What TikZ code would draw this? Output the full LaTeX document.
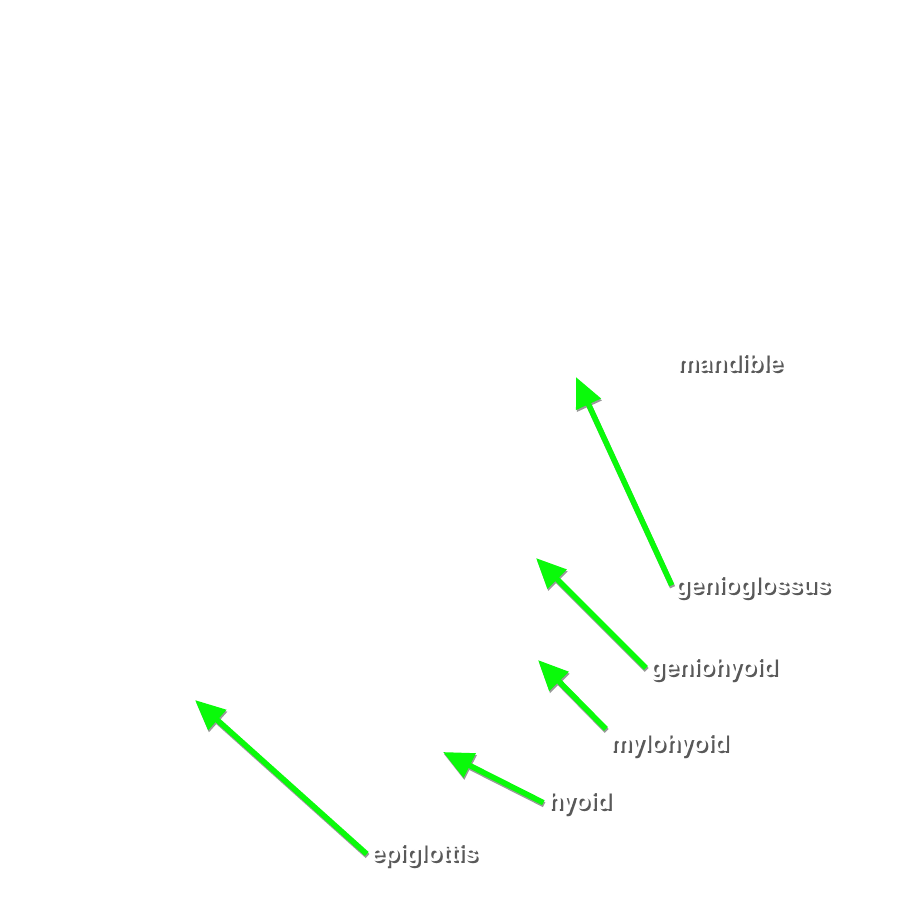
\documentclass[tikz,border=0pt]{standalone}
\usepackage{fontspec}
\setmainfont{TeX Gyre Heros}
\usepackage{xcolor}
\usetikzlibrary{arrows.meta, positioning}

\newcommand{\shadowlabel}[1]{\makebox[0pt][l]{\raisebox{-2.2pt}{\hspace{2.2pt}\textcolor{black!65}{#1}}}\textcolor{white}{#1}}

\begin{document}
\begin{tikzpicture}[x=1pt, y=-1pt, >=Latex]
% Define styles for labels and pointers
\tikzstyle{part} = [anchor=west, inner sep=2pt, font=\fontsize{24}{27}\selectfont\bfseries]
\tikzstyle{pointer} = [draw={rgb,255:red,10;green,250;blue,10}, line width=5.5pt,
  -{Triangle[length=30pt, width=26pt]}, shorten <=3pt,
  preaction={draw=black!40, line width=5.5pt, transform canvas={shift={(0.8pt,-2pt)}}}]
\useasboundingbox (0,0) rectangle (908,900);

% Nodes placement
\node [part] (mandible) at (675,364) {\shadowlabel{mandible}};
\node [part] (genioglossus) at (673,588) {\shadowlabel{genioglossus}};
\node [part] (geniohyoid) at (648,670) {\shadowlabel{geniohyoid}};
\node [part] (mylohyoid) at (608,746) {\shadowlabel{mylohyoid}};
\node [part] (hyoid) at (546,804) {\shadowlabel{hyoid}};
\node [part] (epiglottis) at (369,856) {\shadowlabel{epiglottis}};

% Arrow tips
\coordinate (tipGG) at (576,377);
\coordinate (tipGH) at (536,558);
\coordinate (tipMH) at (538,660);
\coordinate (tipHY) at (443,752);
\coordinate (tipEP) at (195,700);

% Draw pointers
\draw[pointer] (genioglossus.west) -- (tipGG);
\draw[pointer] (geniohyoid.west) -- (tipGH);
\draw[pointer] (mylohyoid.north west) -- (tipMH);
\draw[pointer] (hyoid.west) -- (tipHY);
\draw[pointer] (epiglottis.west) -- (tipEP);
\end{tikzpicture}
\end{document}
